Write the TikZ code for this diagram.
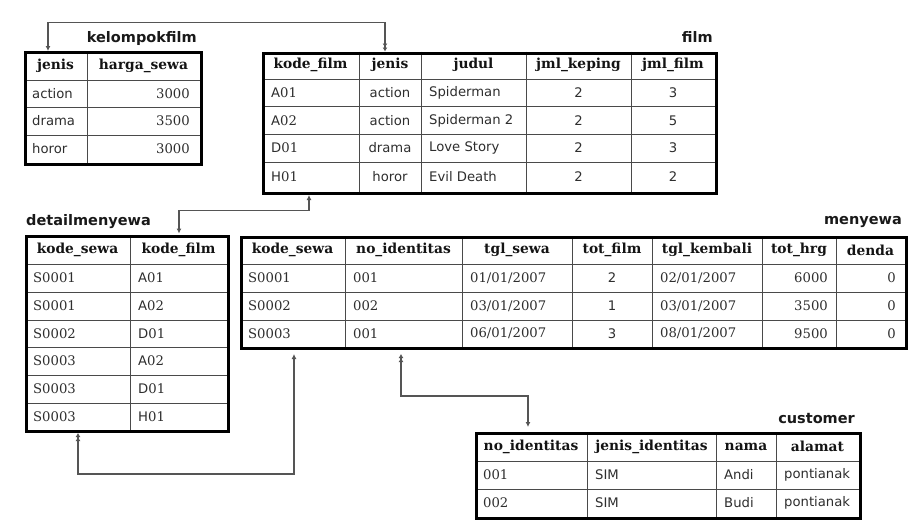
\documentclass[tikz,border=0pt]{standalone}
\usepackage{fontspec}
\setmainfont{DejaVu Sans}
\newfontfamily\hdfont{DejaVu Serif}
\newfontfamily\srfont{DejaVu Serif}
\newfontfamily\sansfont{DejaVu Sans}
\usetikzlibrary{arrows.meta}
\definecolor{datcol}{HTML}{2E2E2E}
\definecolor{linecol}{HTML}{4A4A4A}
\definecolor{conncol}{HTML}{555555}
\newcounter{nc}
\newcommand\cL[2]{\stepcounter{nc}\node[dat,anchor=west] (t\arabic{nc}) at (#1) {#2};}
\newcommand\cR[2]{\stepcounter{nc}\node[dat,anchor=east] (t\arabic{nc}) at (#1) {#2};}
\newcommand\cC[2]{\stepcounter{nc}\node[dat] (t\arabic{nc}) at (#1) {#2};}
\newcommand\hC[2]{\stepcounter{nc}\node[hdr] (t\arabic{nc}) at (#1) {#2};}
\newcommand\ns{\srfont}
\tikzset{
  dat/.style={inner sep=0pt,text=datcol,font=\sansfont\fontsize{13.2}{15}\selectfont},
  hdr/.style={inner sep=0pt,text=black!92,font=\hdfont\bfseries\fontsize{13.8}{15}\selectfont},
  ttl/.style={inner sep=0pt,text=black!90,font=\sansfont\bfseries\fontsize{14.5}{16}\selectfont},
  tbox/.style={draw=black,line width=3pt,inner sep=0pt,anchor=north west},
  grid/.style={draw=linecol,line width=0.9pt},
  conn/.style={draw=conncol,line width=1.3pt},
  tip/.tip={Latex[length=5pt,width=5pt]},
  tiptwo/.tip={Latex[length=4pt,width=5pt] Latex[length=4pt,width=5pt]}
}
\begin{document}
\begin{tikzpicture}[x=1pt,y=-1pt]
\useasboundingbox[fill=white] (0,0) rectangle (919,530);

% ---------- grid lines ----------
% kelompokfilm
\draw[grid] (87,51) -- (87,163);
\foreach \y in {80,107,135} \draw[grid] (24,\y) -- (200,\y);
% film
\foreach \x in {359,421,526,631} \draw[grid] (\x,51.5) -- (\x,192);
\foreach \y in {79,106.7,134,162} \draw[grid] (262,\y) -- (715,\y);
% detailmenyewa
\draw[grid] (130,235) -- (130,430);
\foreach \y in {264,292,320,347,375,403} \draw[grid] (25,\y) -- (227,\y);
% menyewa
\foreach \x in {345,462,572,652,762,836} \draw[grid] (\x,236) -- (\x,347);
\foreach \y in {264,292,320} \draw[grid] (240,\y) -- (905,\y);
% customer
\foreach \x in {587,716,776} \draw[grid] (\x,432) -- (\x,517);
\foreach \y in {461,489} \draw[grid] (475,\y) -- (859,\y);

% ---------- boxes ----------
\node[tbox,minimum width=176pt,minimum height=112pt] (kf) at (24,51) {};
\node[tbox,minimum width=453pt,minimum height=140.5pt] (film) at (262,51.5) {};
\node[tbox,minimum width=202pt,minimum height=195pt] (dm) at (25,235) {};
\node[tbox,minimum width=665pt,minimum height=111pt] (mw) at (240,236) {};
\node[tbox,minimum width=384pt,minimum height=85pt] (cu) at (475,432) {};

% ---------- titles ----------
\node[ttl,anchor=east] (kft) at (197,38) {kelompokfilm};
\node[ttl,anchor=east] (filmt) at (713,37) {film};
\node[ttl,anchor=west] (dmt) at (26,222) {detailmenyewa};
\node[ttl,anchor=east] (mwt) at (902,222) {menyewa};
\node[ttl,anchor=east] (cut) at (855,419) {customer};

% ---------- kelompokfilm ----------
\hC{55.5,65.5}{jenis} \hC{143.5,65.5}{harga\_sewa}
\cL{32,93.5}{action} \cR{190,93.5}{\ns 3000}
\cL{32,121}{drama}   \cR{190,121}{\ns 3500}
\cL{32,149}{horor}   \cR{190,149}{\ns 3000}

% ---------- film ----------
\hC{310.5,65}{kode\_film} \hC{390,65}{jenis} \hC{473.5,65}{judul} \hC{578.5,65}{jml\_keping} \hC{673,65}{jml\_film}
\cL{271,93}{A\ns 01} \cC{390,93}{action} \cL{429,93}{Spiderman} \cC{578.5,93}{2} \cC{673,93}{3}
\cL{271,120.5}{A\ns 02} \cC{390,120.5}{action} \cL{429,120.5}{Spiderman 2} \cC{578.5,120.5}{2} \cC{673,120.5}{5}
\cL{271,148}{D\ns 01} \cC{390,148}{drama} \cL{429,148}{Love Story} \cC{578.5,148}{2} \cC{673,148}{3}
\cL{271,177}{H\ns 01} \cC{390,177}{horor} \cL{429,177}{Evil Death} \cC{578.5,177}{2} \cC{673,177}{2}

% ---------- detailmenyewa ----------
\hC{77.5,249.5}{kode\_sewa} \hC{178.5,249.5}{kode\_film}
\cL{33,278}{\ns S0001} \cL{138,278}{A\ns 01}
\cL{33,306}{\ns S0001} \cL{138,306}{A\ns 02}
\cL{33,333.5}{\ns S0002} \cL{138,333.5}{D\ns 01}
\cL{33,361}{\ns S0003} \cL{138,361}{A\ns 02}
\cL{33,389}{\ns S0003} \cL{138,389}{D\ns 01}
\cL{33,416.5}{\ns S0003} \cL{138,416.5}{H\ns 01}

% ---------- menyewa ----------
\hC{292.5,250}{kode\_sewa} \hC{403.5,250}{no\_identitas} \hC{517,250}{tgl\_sewa} \hC{612,250}{tot\_film}
\hC{707,250}{tgl\_kembali} \hC{799,250}{tot\_hrg} \hC{870.5,250}{denda}
\cL{248,278}{\ns S0001} \cL{353,278}{\ns 001} \cL{470,278}{\ns 01/01/2007} \cC{612,278}{2} \cL{660,278}{\ns 02/01/2007} \cR{828,278}{\ns 6000} \cR{896,278}{\ns 0}
\cL{248,306}{\ns S0002} \cL{353,306}{\ns 002} \cL{470,306}{\ns 03/01/2007} \cC{612,306}{1} \cL{660,306}{\ns 03/01/2007} \cR{828,306}{\ns 3500} \cR{896,306}{\ns 0}
\cL{248,333.5}{\ns S0003} \cL{353,333.5}{\ns 001} \cL{470,333.5}{\ns 06/01/2007} \cC{612,333.5}{3} \cL{660,333.5}{\ns 08/01/2007} \cR{828,333.5}{\ns 9500} \cR{896,333.5}{\ns 0}

% ---------- customer ----------
\hC{531,446.5}{no\_identitas} \hC{651.5,446.5}{jenis\_identitas} \hC{746,446.5}{nama} \hC{817.5,446.5}{alamat}
\cL{483,475}{\ns 001} \cL{595,475}{SIM} \cL{724,475}{Andi} \cL{784,475}{pontianak}
\cL{483,503}{\ns 002} \cL{595,503}{SIM} \cL{724,503}{Budi} \cL{784,503}{pontianak}

% ---------- connectors ----------
\coordinate (a1) at (48,22.5);
\coordinate (a2) at (385,22.5);
\draw[conn,{tip}-{tiptwo}] (a1 |- kf.north) -- (a1) -- (a2) -- (a2 |- film.north);

\coordinate (b1) at (309,210.5);
\coordinate (b2) at (179,210.5);
\draw[conn,{tip}-{tip},shorten >=1.5pt] (b1 |- film.south) -- (b1) -- (b2) -- (b2 |- dm.north);

\coordinate (c1) at (294,474);
\coordinate (c2) at (78,474);
\draw[conn,{tip}-{tiptwo},shorten <=4pt] (c1 |- mw.south) -- (c1) -- (c2) -- (c2 |- dm.south);

\coordinate (d1) at (401,396);
\coordinate (d2) at (528,396);
\draw[conn,{tiptwo}-{tip},shorten <=4pt,shorten >=5pt] (d1 |- mw.south) -- (d1) -- (d2) -- (d2 |- cu.north);
\end{tikzpicture}
\end{document}
